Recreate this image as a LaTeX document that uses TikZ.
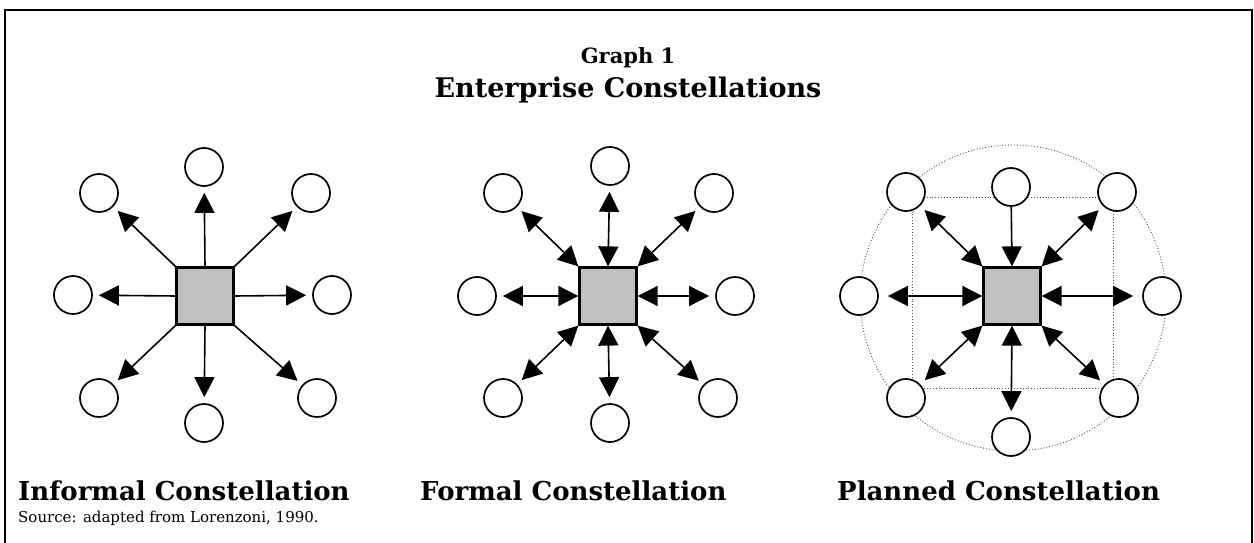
\documentclass[tikz,border=0pt]{standalone}
\usepackage{fontspec}
\setmainfont{DejaVu Serif}
\usetikzlibrary{arrows.meta}
\definecolor{hubgray}{HTML}{C0C0C0}
\definecolor{dotgray}{HTML}{505050}
\begin{document}
\begin{tikzpicture}[x=1pt,y=-1pt,
  sat/.style={circle,draw,line width=1.7pt,fill=white,minimum size=38pt,inner sep=0pt},
  hub/.style={rectangle,draw,line width=2.2pt,fill=hubgray,minimum size=57pt,inner sep=0pt},
  link/.style={line width=1.6pt},
  gap/.style={shorten >=6pt},
  guide/.style={dotgray,dotted,line width=0.9pt},
  >={Triangle[length=20pt,width=20pt]},
  lbl/.style={anchor=base west,inner sep=0pt,font=\bfseries\fontsize{26}{26}\selectfont}
]
\useasboundingbox (0,0) rectangle (1254,543);
% frame
\draw[line width=2pt] (5,543) -- (5,10) -- (1252,10) -- (1252,543);

% titles
\node[anchor=base,inner sep=0pt,font=\bfseries\fontsize{21}{21}\selectfont] (t1) at (628,64) {Graph 1};
\node[anchor=base,inner sep=0pt,font=\bfseries\fontsize{27}{27}\selectfont] (t2) at (628,97) {Enterprise Constellations};

% ---------- Informal ----------
\node[hub] (s1) at (205,296) {};
\node[sat] (it)  at (204,167) {};
\node[sat] (iul) at (99,193) {};
\node[sat] (iur) at (311,193) {};
\node[sat] (il)  at (73,295) {};
\node[sat] (ir)  at (332,295) {};
\node[sat] (ill) at (99,398) {};
\node[sat] (ib)  at (204,423) {};
\node[sat] (ilr) at (317,398) {};
\draw[link,->,gap] (s1.north) -- (it);
\draw[link,->,gap] (s1.south) -- (ib);
\draw[link,->,gap] (s1.west) -- (il);
\draw[link,->,gap] (s1.east) -- (ir);
\draw[link,->,gap] (s1.north west) -- (iul);
\draw[link,->,gap] (s1.north east) -- (iur);
\draw[link,->,gap] (s1.south west) -- (ill);
\draw[link,->,gap] (s1.south east) -- (ilr);

% ---------- Formal ----------
\node[hub] (s2) at (608,296) {};
\node[sat] (ft)  at (610,166) {};
\node[sat] (ful) at (503,193) {};
\node[sat] (fur) at (714,193) {};
\node[sat] (fl)  at (477,296) {};
\node[sat] (fr)  at (735,296) {};
\node[sat] (fll) at (503,398) {};
\node[sat] (fb)  at (610,423) {};
\node[sat] (flr) at (718,398) {};
\draw[link,<->,gap] (s2.north) -- (ft);
\draw[link,<->,gap] (s2.south) -- (fb);
\draw[link,<->,gap] (s2.west) -- (fl);
\draw[link,<->,gap] (s2.east) -- (fr);
\draw[link,<->,gap] (s2.north west) -- (ful);
\draw[link,<->,gap] (s2.north east) -- (fur);
\draw[link,<->,gap] (s2.south west) -- (fll);
\draw[link,<->,gap] (s2.south east) -- (flr);

% ---------- Planned ----------
\coordinate (pc) at (1013,298);
\draw[guide] (pc) circle[radius=153];
\draw[guide] (912,197) rectangle (1113,388);
\node[hub] (s3) at (1012,296) {};
\node[sat] (pt)  at (1011,187) {};
\node[sat] (pul) at (906,192) {};
\node[sat] (pur) at (1117,192) {};
\node[sat] (pl)  at (859,296) {};
\node[sat] (pr)  at (1162,296) {};
\node[sat] (pll) at (906,398) {};
\node[sat] (pb)  at (1011,437) {};
\node[sat] (plr) at (1119,398) {};
\draw[link,->] (pt) -- (s3.north);
\draw[link,<->,gap] (s3.south) -- (pb);
\draw[link,<->,shorten >=9pt] (s3.west) -- (pl);
\draw[link,<->,shorten >=9pt] (s3.east) -- (pr);
\draw[link,<->,gap] (s3.north west) -- (pul);
\draw[link,<->,gap] (s3.north east) -- (pur);
\draw[link,<->,gap] (s3.south west) -- (pll);
\draw[link,<->,gap] (s3.south east) -- (plr);

% labels
\node[lbl] (l1) at (18,500) {Informal Constellation};
\node[lbl] (l2) at (420,500) {Formal Constellation};
\node[lbl] (l3) at (837,500) {Planned Constellation};
\node[anchor=base west,inner sep=0pt,font=\fontsize{15}{15}\selectfont] (src) at (18,522) {Source: adapted from Lorenzoni, 1990.};
\end{tikzpicture}
\end{document}
